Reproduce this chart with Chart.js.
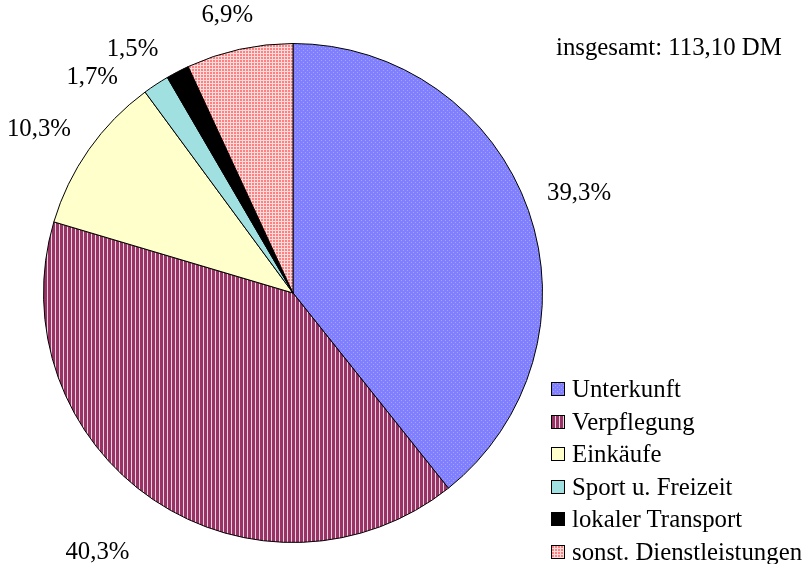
<!DOCTYPE html>
<html>
<head>
<meta charset="utf-8">
<script src="https://cdn.jsdelivr.net/npm/chart.js@4"></script>
<style>
  html, body { margin: 0; padding: 0; background: #fff; }
  #wrap { position: relative; width: 803px; height: 564px; overflow: hidden; font-family: "Liberation Serif", "DejaVu Serif", serif; }
  #c { position: absolute; left: 0; top: 0; }
  #total { position: absolute; left: 556px; top: 33px; font-size: 24.8px; line-height: 28px; white-space: nowrap; color: #000; }
  .lg { position: absolute; left: 551px; height: 28px; font-size: 24.8px; line-height: 28px; white-space: nowrap; color: #000; }
  .lg .sw { position: absolute; left: 0; top: 7px; width: 12px; height: 12px; border: 1px solid #000; background-repeat: repeat; }
  .lg .tx { position: absolute; left: 21px; top: 0; }
</style>
</head>
<body>
<div id="wrap">
  <canvas id="c" width="803" height="564"></canvas>
  <div id="total"></div>
</div>
<script>
// ---- data ----
const categories = ["Unterkunft", "Verpflegung", "Einkäufe", "Sport u. Freizeit", "lokaler Transport", "sonst. Dienstleistungen"];
const shares = [39.3, 40.3, 10.3, 1.7, 1.5, 6.9];
const totalLabel = "insgesamt: 113,10 DM";

// ---- fills ----
function makeTile(w, h, draw) {
  const t = document.createElement('canvas');
  t.width = w; t.height = h;
  const g = t.getContext('2d');
  draw(g);
  return t;
}
const tiles = [
  makeTile(4, 4, g => { g.fillStyle = '#8080ff'; g.fillRect(0,0,4,4); g.fillStyle = '#a4a4ff'; g.fillRect(1,0,1,1); g.fillRect(3,2,1,1); }),
  makeTile(4, 1, g => { g.fillStyle = '#993366'; g.fillRect(0,0,4,1); g.fillStyle = '#e8d2dd'; g.fillRect(3,0,1,1); }),
  makeTile(1, 1, g => { g.fillStyle = '#ffffcc'; g.fillRect(0,0,1,1); }),
  makeTile(1, 1, g => { g.fillStyle = '#a0e0e0'; g.fillRect(0,0,1,1); }),
  makeTile(1, 1, g => { g.fillStyle = '#000000'; g.fillRect(0,0,1,1); }),
  makeTile(3, 3, g => { g.fillStyle = '#ffdcdc'; g.fillRect(0,0,3,3); g.fillStyle = '#ff8080'; g.fillRect(0,0,2,2); })
];
const canvas = document.getElementById('c');
const ctx = canvas.getContext('2d');
const fills = tiles.map(t => ctx.createPattern(t, 'repeat'));

// ---- legend & total (HTML text) ----
document.getElementById('total').textContent = totalLabel;
const wrap = document.getElementById('wrap');
categories.forEach((name, i) => {
  const row = document.createElement('div');
  row.className = 'lg';
  row.style.top = (375 + i * 32.6) + 'px';
  const sw = document.createElement('div');
  sw.className = 'sw';
  sw.style.backgroundImage = 'url(' + tiles[i].toDataURL() + ')';
  const tx = document.createElement('span');
  tx.className = 'tx';
  tx.textContent = name;
  row.appendChild(sw); row.appendChild(tx);
  wrap.appendChild(row);
});

// ---- outside percentage labels (placed from arc geometry, with layout nudges) ----
const FONT = '24.8px "Liberation Serif", "DejaVu Serif", serif';
const labelLayout = {
  gap: 20,
  angleNudgeDeg: [0, 3, -2.4, -9.7, -5.8, -0.9],
  extraDistance: [0, 28, 0, 0, 0, 0]
};
const outsideLabels = {
  id: 'outsideLabels',
  afterDatasetsDraw(chart) {
    const c = chart.ctx;
    const arcs = chart.getDatasetMeta(0).data;
    c.save();
    c.font = FONT;
    c.fillStyle = '#000';
    c.textAlign = 'center';
    c.textBaseline = 'middle';
    const h = 20;
    arcs.forEach((a, i) => {
      const text = shares[i].toFixed(1).replace('.', ',') + '%';
      const w = c.measureText(text).width;
      const ang = (a.startAngle + a.endAngle) / 2 + labelLayout.angleNudgeDeg[i] * Math.PI / 180;
      const cs = Math.cos(ang), sn = Math.sin(ang);
      const he = Math.abs(cs) * w / 2 + Math.abs(sn) * h / 2;
      const d = a.outerRadius + labelLayout.gap + he + labelLayout.extraDistance[i];
      c.fillText(text, a.x + cs * d, a.y + sn * d);
    });
    c.restore();
  }
};

new Chart(ctx, {
  type: 'pie',
  data: {
    labels: categories,
    datasets: [{
      data: shares,
      backgroundColor: fills,
      borderColor: '#000',
      borderWidth: 1,
      borderAlign: 'center'
    }]
  },
  options: {
    responsive: false,
    maintainAspectRatio: false,
    animation: false,
    layout: { padding: { left: 43, top: 43, right: 260, bottom: 21 } },
    plugins: {
      legend: { display: false },
      tooltip: { enabled: false }
    }
  },
  plugins: [outsideLabels]
});
</script>
</body>
</html>
